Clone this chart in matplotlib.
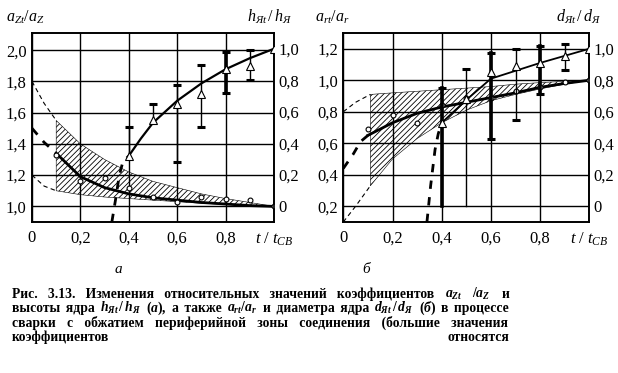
import matplotlib
matplotlib.use("Agg")
import matplotlib.pyplot as plt

plt.rcParams['font.family'] = ['Liberation Serif', 'DejaVu Serif']
plt.rcParams['mathtext.fontset'] = 'custom'
plt.rcParams['mathtext.rm'] = 'Liberation Serif'
plt.rcParams['mathtext.it'] = 'Liberation Serif:italic'
plt.rcParams['mathtext.bf'] = 'Liberation Serif:bold'
plt.rcParams['mathtext.bfit'] = 'Liberation Serif:italic:bold'
plt.rcParams['hatch.linewidth'] = 0.6

# ---- data, panel a ----
x_ticks = [0, 0.2, 0.4, 0.6, 0.8, 1.0]
x_ticklabels = ['0', '0,2', '0,4', '0,6', '0,8', r'$t\ /\ t_{CB}$']

a_yticks = [1.0, 1.2, 1.4, 1.6, 1.8, 2.0]
a_ylabels = ['1,0', '1,2', '1,4', '1,6', '1,8', '2,0']
h_yticks = [0, 0.2, 0.4, 0.6, 0.8, 1.0]
h_ylabels = ['0', '0,2', '0,4', '0,6', '0,8', '1,0']

band_x0 = [0, 0.05, 0.1]
aZ_up0 = [1.80, 1.66, 1.55]
aZ_lo0 = [1.20, 1.13, 1.10]
band_x = [0.1, 0.2, 0.3, 0.4, 0.5, 0.6, 0.7, 0.8, 0.9, 1.0]
aZ_up = [1.55, 1.40, 1.30, 1.22, 1.16, 1.12, 1.08, 1.05, 1.025, 1.0]
aZ_lo = [1.10, 1.075, 1.06, 1.05, 1.04, 1.03, 1.02, 1.012, 1.005, 1.0]

aZ_dash_x = [0, 0.05, 0.1]
aZ_dash = [1.50, 1.41, 1.34]
aZ_line = [1.34, 1.19, 1.12, 1.08, 1.055, 1.04, 1.025, 1.015, 1.005, 1.0]
aZ_pts = [1.33, 1.16, 1.18, 1.12, 1.06, 1.03, 1.06, 1.05, 1.04, 1.0]

h_dash_x = [0.33, 0.345, 0.36, 0.375, 0.4]
h_dash = [-0.1, 0.04, 0.19, 0.28, 0.32]
h_line_x = [0.4, 0.45, 0.5, 0.6, 0.7, 0.8, 0.9, 1.0]
h_line = [0.32, 0.43, 0.53, 0.67, 0.78, 0.87, 0.94, 1.0]
h_x = [0.4, 0.5, 0.6, 0.7, 0.8, 0.9, 1.0]
h_pts = [0.32, 0.55, 0.65, 0.71, 0.87, 0.89, 1.0]
h_err_x = [0.4, 0.5, 0.6, 0.7, 0.8, 0.9]
h_err_hi = [0.50, 0.65, 0.77, 0.90, 0.98, 0.99]
h_err_lo = [0.32, 0.55, 0.28, 0.50, 0.72, 0.80]
h_err_thick = [False, False, False, False, True, False]
h_err_lowcap = [False, False, True, True, True, True]

# ---- data, panel б ----
r_yticks = [0.2, 0.4, 0.6, 0.8, 1.0, 1.2]
r_ylabels = ['0,2', '0,4', '0,6', '0,8', '1,0', '1,2']
d_yticks = h_yticks
d_ylabels = h_ylabels

rb_x0 = [0, 0.05, 0.11]
ar_up0 = [0.80, 0.86, 0.91]
ar_lo0 = [0.10, 0.20, 0.33]
rb_x = [0.11, 0.2, 0.3, 0.4, 0.5, 0.6, 0.7, 0.8, 0.9, 1.0]
ar_up = [0.91, 0.92, 0.93, 0.94, 0.95, 0.96, 0.975, 0.985, 0.993, 1.0]
ar_lo = [0.33, 0.50, 0.63, 0.73, 0.81, 0.87, 0.91, 0.945, 0.975, 1.0]

ar_dash_x = [0, 0.04, 0.07, 0.1]
ar_dash = [0.44, 0.53, 0.61, 0.65]
ar_line_x = [0.1, 0.2, 0.3, 0.4, 0.5, 0.6, 0.7, 0.8, 0.9, 1.0]
ar_line = [0.65, 0.73, 0.79, 0.83, 0.86, 0.89, 0.92, 0.955, 0.98, 1.0]
ar_pts = [0.69, 0.78, 0.73, 0.84, 0.89, 0.89, 0.93, 0.96, 0.99, 1.0]

d_dash_x = [0.34, 0.355, 0.373, 0.386, 0.4]
d_dash = [-0.1, 0.13, 0.36, 0.46, 0.53]
d_line_x = [0.4, 0.5, 0.6, 0.7, 0.8, 0.9, 1.0]
d_line = [0.53, 0.675, 0.81, 0.86, 0.91, 0.955, 1.0]
d_pts = [0.53, 0.68, 0.85, 0.89, 0.91, 0.955, 1.0]
d_err_hi = [0.75, 0.87, 0.97, 1.00, 1.02, 1.03]
d_err_lo = [0.0, 0.0, 0.43, 0.55, 0.71, 0.865]
d_err_thick = [True, False, True, False, True, False]
d_err_lowcap = [False, False, True, True, True, True]

W, H = 618, 373
fig = plt.figure(figsize=(W / 100, H / 100), dpi=100)
fig.patch.set_facecolor('white')


def style(ax, ylim, yticks, ylabels):
    ax.set_xlim(0, 1)
    ax.set_ylim(*ylim)
    ax.set_xticks(x_ticks)
    ax.set_xticklabels(x_ticklabels)
    ax.set_yticks(yticks)
    ax.set_yticklabels(ylabels)
    ax.grid(True, color='black', lw=1.0, zorder=0)
    ax.set_axisbelow(True)
    ax.tick_params(length=0, labelsize=12, pad=4)
    ax.tick_params(axis='x', pad=6)
    for s in ax.spines.values():
        s.set_linewidth(1.2)


def twin(ax, ticks, labels):
    tw = ax.twinx()
    tw.set_ylim(-0.1, 1.1)
    tw.set_yticks(ticks)
    tw.set_yticklabels(labels)
    tw.tick_params(length=0, labelsize=12, pad=3)
    for s in tw.spines.values():
        s.set_linewidth(1.2)
    return tw


def errbars(ax, xs, lo, hi, thick, lowcap):
    for x, l, h, t, c in zip(xs, lo, hi, thick, lowcap):
        lw = 2.6 if t else 1.0
        ax.plot([x, x], [l, h], color='black', lw=lw, zorder=4)
        ax.plot([x], [h], marker='_', ms=6, mew=2.2, color='black', zorder=4)
        if c:
            ax.plot([x], [l], marker='_', ms=6, mew=2.2, color='black', zorder=4)


# ---------- panel a ----------
ax1 = fig.add_axes([32 / W, 1 - 222 / H, 242 / W, 189 / H])
style(ax1, (0.9, 2.11), a_yticks, a_ylabels)
ax1.fill_between(band_x, aZ_lo, aZ_up, facecolor='none', edgecolor='black',
                 hatch='//////', lw=0.4, zorder=1)
ax1.plot(band_x0, aZ_up0, color='black', lw=0.8, ls=(0, (4, 3)), zorder=2)
ax1.plot(band_x0, aZ_lo0, color='black', lw=0.8, ls=(0, (4, 3)), zorder=2)
ax1.plot(aZ_dash_x, aZ_dash, color='black', lw=2.0, ls=(0, (3, 3)), zorder=3)
ax1.plot(band_x, aZ_line, color='black', lw=2.0, zorder=3)
ax1.plot(band_x, aZ_pts, ls='none', marker='o', ms=3.5, mfc='white',
         mec='black', mew=0.8, zorder=5)

tw1 = twin(ax1, h_yticks, h_ylabels)
tw1.plot(h_dash_x, h_dash, color='black', lw=2.0, ls=(0, (3, 3)), zorder=3)
tw1.plot(h_line_x, h_line, color='black', lw=1.6, zorder=3)
errbars(tw1, h_err_x, h_err_lo, h_err_hi, h_err_thick, h_err_lowcap)
tw1.plot(h_x, h_pts, ls='none', marker='^', ms=6, mfc='white',
         mec='black', mew=0.8, zorder=6)

# ---------- panel б ----------
ax2 = fig.add_axes([343.3 / W, 1 - 222 / H, 246 / W, 189 / H])
style(ax2, (0.1, 1.3), r_yticks, r_ylabels)
ax2.fill_between(rb_x, ar_lo, ar_up, facecolor='none', edgecolor='black',
                 hatch='//////', lw=0.4, zorder=1)
ax2.plot(rb_x0, ar_up0, color='black', lw=0.8, ls=(0, (4, 3)), zorder=2)
ax2.plot(rb_x0, ar_lo0, color='black', lw=0.8, ls=(0, (4, 3)), zorder=2)
ax2.plot(ar_dash_x, ar_dash, color='black', lw=2.0, ls=(0, (3, 3)), zorder=3)
ax2.plot(ar_line_x, ar_line, color='black', lw=2.0, zorder=3)
ax2.plot(ar_line_x, ar_pts, ls='none', marker='o', ms=3.5, mfc='white',
         mec='black', mew=0.8, zorder=5)

tw2 = twin(ax2, d_yticks, d_ylabels)
tw2.plot(d_dash_x, d_dash, color='black', lw=2.0, ls=(0, (3, 3)), zorder=3)
tw2.plot(d_line_x, d_line, color='black', lw=1.3, zorder=3)
errbars(tw2, h_err_x, d_err_lo, d_err_hi, d_err_thick, d_err_lowcap)
tw2.plot(d_line_x, d_pts, ls='none', marker='^', ms=6, mfc='white',
         mec='black', mew=0.8, zorder=6)

# axis titles above the plots
fig.text(6 / W, 1 - 22 / H, r'$a_{Zt}/a_Z$', fontsize=11.5, va='baseline')
fig.text(247 / W, 1 - 22 / H, r'$h_{Яt}\,/\,h_{Я}$', fontsize=11.5, va='baseline')
fig.text(315 / W, 1 - 22 / H, r'$a_{rt}/a_r$', fontsize=11.5, va='baseline')
fig.text(556 / W, 1 - 22 / H, r'$d_{Яt}\,/\,d_{Я}$', fontsize=11.5, va='baseline')

# panel letters
fig.text(118 / W, 1 - 273 / H, 'а', style='italic', fontsize=11, ha='center', va='baseline')
fig.text(366 / W, 1 - 273 / H, 'б', style='italic', fontsize=11, ha='center', va='baseline')

# caption: justified lines, plain words kept in runs so they share a baseline
renderer = fig.canvas.get_renderer()
CAP_SIZE = 9.8
X0, X1 = 11.7, 509.0
SPACES = [' ', '\u2009', '\u200a']


def is_math(tok):
    return tok.startswith('$')


def measure(s, bold=True):
    t = fig.text(0, 0, s, fontsize=CAP_SIZE, fontweight='bold' if bold else 'normal')
    w = t.get_window_extent(renderer).width
    t.remove()
    return w


base_xx = measure('xx')
space_w = [measure('x' + c + 'x') - base_xx for c in SPACES]


def spacer(g):
    best, best_err = ' ', 1e9
    for a in range(0, 6):
        for b in range(0, 6):
            for c in range(0, 4):
                if a + b + c == 0:
                    continue
                w = a * space_w[0] + b * space_w[1] + c * space_w[2]
                if abs(w - g) < best_err:
                    best_err = abs(w - g)
                    best = ' ' * a + SPACES[1] * b + SPACES[2] * c
    return best


def justified(tokens, base):
    widths = [measure(t, bold=not is_math(t)) for t in tokens]
    g = (X1 - X0 - sum(widths)) / (len(tokens) - 1)
    xs, x = [], X0
    for w in widths:
        xs.append(x)
        x += w + g
    y = 1 - base / H
    i = 0
    while i < len(tokens):
        if is_math(tokens[i]):
            fig.text(xs[i] / W, y, tokens[i], fontsize=CAP_SIZE, va='baseline')
            i += 1
            continue
        j = i
        while j < len(tokens) and not is_math(tokens[j]):
            j += 1
        run = spacer(g).join(tokens[i:j])
        if j == len(tokens) and i > 0:
            fig.text(X1 / W, y, run, fontsize=CAP_SIZE, fontweight='bold',
                     va='baseline', ha='right')
        else:
            fig.text(xs[i] / W, y, run, fontsize=CAP_SIZE, fontweight='bold',
                     va='baseline')
        i = j


line1 = ['Рис.', '3.13.', 'Изменения', 'относительных', 'значений',
         'коэффициентов', r'$\mathbfit{a}_{\mathbfit{Zt}}$',
         r'$\mathbf{/}\mathbfit{a}_{\mathbfit{Z}}$', 'и']
line2 = ['высоты', 'ядра',
         r'$\mathbfit{h}_{\mathbfit{Яt}}\,\mathbf{/}\,\mathbfit{h}_{\mathbfit{Я}}$',
         r'$\mathbf{(}\mathbfit{а}\mathbf{),}$', 'а', 'также',
         r'$\mathbfit{a}_{\mathbfit{rt}}\mathbf{/}\mathbfit{a}_{\mathbfit{r}}$',
         'и', 'диаметра', 'ядра',
         r'$\mathbfit{d}_{\mathbfit{Яt}}\,\mathbf{/}\,\mathbfit{d}_{\mathbfit{Я}}$',
         r'$\mathbf{(}\mathbfit{б}\mathbf{)}$', 'в', 'процессе']
line3 = ['сварки', 'с', 'обжатием', 'периферийной', 'зоны', 'соединения',
         '(большие', 'значения']

justified(line1, 298)
justified(line2, 312)
justified(line3, 327)
fig.text(X0 / W, 1 - 341 / H, 'коэффициентов', fontsize=CAP_SIZE,
         fontweight='bold', va='baseline')
fig.text(X1 / W, 1 - 341 / H, 'относятся', fontsize=CAP_SIZE,
         fontweight='bold', va='baseline', ha='right')

fig.savefig('out.png', dpi=100, facecolor='white')
